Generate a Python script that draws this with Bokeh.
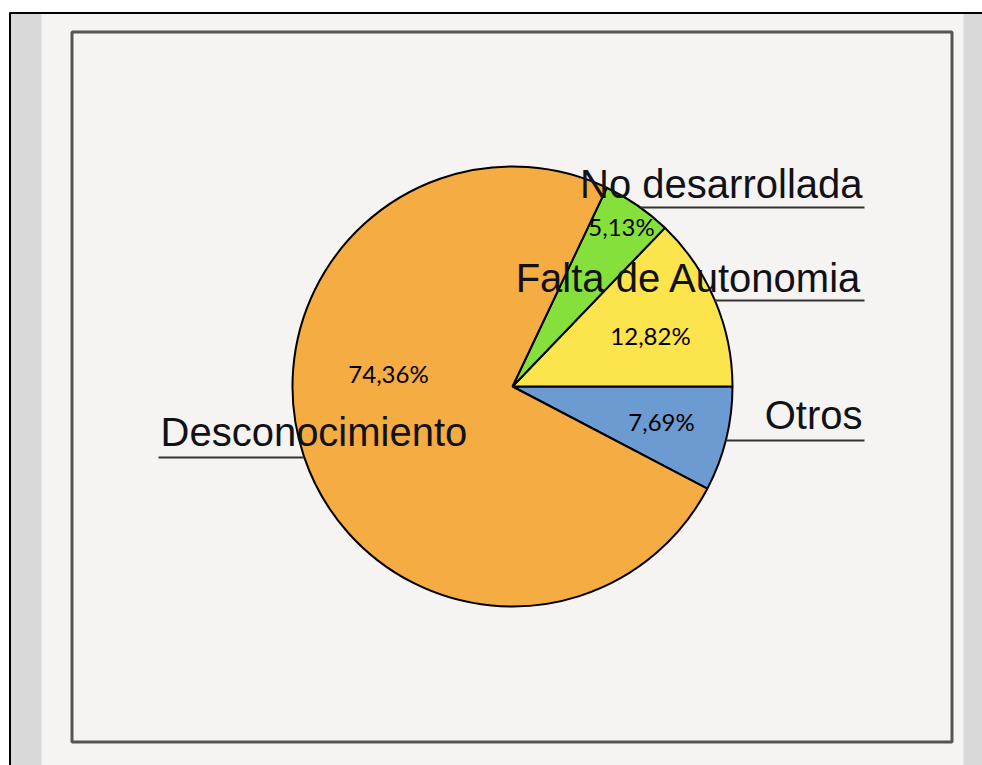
import numpy as np
from bokeh.plotting import figure
from bokeh.models import Range1d, ColumnDataSource
from bokeh.core.properties import value
from bokeh.embed import file_html
from bokeh.resources import INLINE

# ---- data ----
categories = ["Otros", "Falta de Autonomia", "No desarrollada", "Desconocimiento"]
percents = [7.69, 12.82, 5.13, 74.36]
pct_labels = ["7,69%", "12,82%", "5,13%", "74,36%"]
colors = ["#6c9bd2", "#fce44d", "#86e03c", "#f5ac42"]

# ---- layout (screen coords of the page) ----
W, H = 982, 765


def Y(sy):
    return H - sy


p = figure(width=W, height=H, x_range=Range1d(0, W), y_range=Range1d(0, H),
           output_backend="svg", toolbar_location=None, min_border=0)
p.axis.visible = False
p.grid.visible = False
p.outline_line_color = None
p.background_fill_color = "white"
p.border_fill_color = "white"

# page-like background
p.quad(left=[10], right=[W], top=[Y(13)], bottom=[0], fill_color="#f5f4f2", line_color=None)
p.quad(left=[10, 963], right=[41, W], top=[Y(13), Y(13)], bottom=[0, 0],
       fill_color="#d9d9d9", line_color=None)
p.segment(x0=[9.5, 9], y0=[Y(12), Y(12.5)], x1=[9.5, W], y1=[0, Y(12.5)],
          line_color="black", line_width=2)
# inner frame
p.quad(left=[71.5], right=[951.5], top=[Y(31.5)], bottom=[Y(741.5)], fill_color=None,
       line_color="#555555", line_width=3)

# pie
cx, cy, R = 512, Y(386), 220
frac = np.array(percents) / sum(percents)
start0 = -frac[0] * 2 * np.pi
ends = start0 + np.cumsum(frac) * 2 * np.pi
starts = np.concatenate([[start0], ends[:-1]])
src = ColumnDataSource(dict(start=starts, end=ends, color=colors, cat=categories))
p.wedge(x=cx, y=cy, radius=R, start_angle="start", end_angle="end", fill_color="color",
        line_color="black", line_width=2, source=src)

# percentage labels
pct_x = [661, 650, 621, 388]
pct_y = [Y(421), Y(335), Y(226), Y(373)]
p.text(x=pct_x, y=pct_y, text=pct_labels, text_align="center", text_baseline="middle",
       text_font=value("Lato"), text_font_size="24px", text_color="black")

# category labels with underline leader lines
lab_x = [862, 862, 862, 160]
lab_y = [Y(414), Y(277), Y(183), Y(431)]
lab_align = ["right", "right", "right", "left"]
line_y = [440, 300, 207, 457]
line_x0, line_x1 = [], []
for ly, al in zip(line_y, lab_align):
    dy = ly - 386
    dx = np.sqrt(R * R - dy * dy)
    if al == "right":
        line_x0.append(cx + dx)
        line_x1.append(864)
    else:
        line_x0.append(158)
        line_x1.append(cx - dx)
p.segment(x0=line_x0, y0=[Y(v) for v in line_y], x1=line_x1, y1=[Y(v) for v in line_y],
          line_color="#333333", line_width=2)
p.text(x=lab_x, y=lab_y, text=categories, text_align=lab_align, text_baseline="alphabetic",
       text_font=value("Liberation Sans"), text_font_size="40px", text_color="#111118")

open("out.html", "w").write(file_html(p, INLINE))
